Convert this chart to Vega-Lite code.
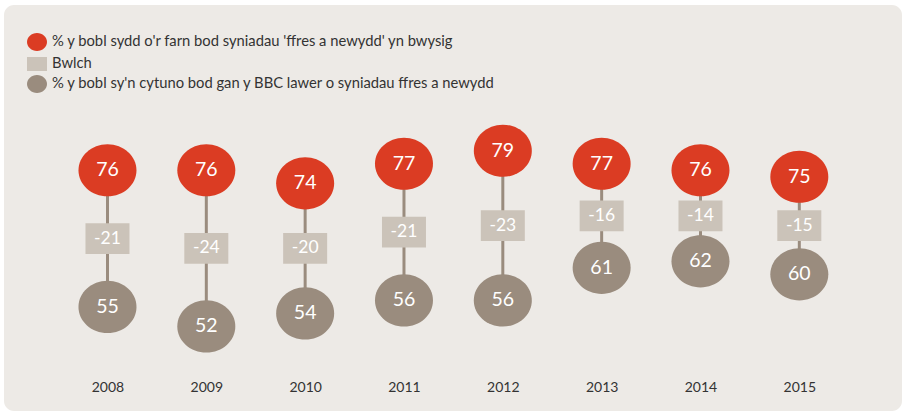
{
  "$schema": "https://vega.github.io/schema/vega-lite/v6.json",
  "width": 898,
  "height": 406,
  "autosize": {"type": "none"},
  "padding": {"left": 4, "top": 5, "right": 1, "bottom": 0},
  "background": "#ffffff",
  "config": {
    "view": {"fill": "#edeae6", "stroke": null, "cornerRadius": 10},
    "font": "Lato"
  },
  "data": {
    "values": [
      {"year": 2008, "top": 76, "bottom": 55, "gap": "-21"},
      {"year": 2009, "top": 76, "bottom": 52, "gap": "-24"},
      {"year": 2010, "top": 74, "bottom": 54, "gap": "-20"},
      {"year": 2011, "top": 77, "bottom": 56, "gap": "-21"},
      {"year": 2012, "top": 79, "bottom": 56, "gap": "-23"},
      {"year": 2013, "top": 77, "bottom": 61, "gap": "-16"},
      {"year": 2014, "top": 76, "bottom": 62, "gap": "-14"},
      {"year": 2015, "top": 75, "bottom": 60, "gap": "-15"}
    ]
  },
  "encoding": {
    "x": {
      "field": "year",
      "type": "quantitative",
      "scale": {"domain": [2006.953, 2016.039], "nice": false, "zero": false},
      "axis": {
        "orient": "bottom",
        "title": null,
        "values": [2008, 2009, 2010, 2011, 2012, 2013, 2014, 2015],
        "format": "d",
        "domain": false,
        "ticks": false,
        "tickSize": 0,
        "grid": false,
        "labelPadding": 0,
        "offset": -24,
        "labelBaseline": "middle",
        "labelAlign": "center",
        "labelAngle": 0,
        "labelFlush": false,
        "labelOverlap": false,
        "labelFontSize": 14,
        "labelColor": "#333333",
        "labelFont": "Lato"
      }
    }
  },
  "layer": [
    {
      "mark": {"type": "rule", "color": "#9a8c7e", "strokeWidth": 3},
      "encoding": {
        "y": {"field": "top", "type": "quantitative", "scale": {"domain": [39, 101.4], "nice": false, "zero": false}, "axis": null},
        "y2": {"field": "bottom"}
      }
    },
    {
      "transform": [{"fold": ["top", "bottom"], "as": ["series", "value"]}],
      "layer": [
        {
          "mark": {"type": "point", "filled": true, "opacity": 1, "strokeWidth": 0, "size": 1936},
          "encoding": {
            "y": {"aggregate": "mean", "field": "value", "type": "quantitative", "axis": null},
            "detail": {"field": "gap", "type": "nominal"},
            "color": {
              "datum": "Bwlch",
              "type": "nominal",
              "scale": {
                "domain": ["% y bobl sydd o'r farn bod syniadau 'ffres a newydd' yn bwysig", "Bwlch", "% y bobl sy'n cytuno bod gan y BBC lawer o syniadau ffres a newydd"],
                "range": ["#db3c23", "#cbc3b9", "#9a8c7e"]
              },
              "legend": {
                "orient": "none", "legendX": 23, "legendY": 27, "title": null, "padding": 0,
                "symbolSize": 400, "symbolStrokeWidth": 0, "symbolOpacity": 1,
                "labelFontSize": 14.75, "labelColor": "#333333", "labelFont": "Lato",
                "labelOffset": 5, "rowPadding": 3, "labelLimit": 700
              }
            },
            "shape": {
              "datum": "Bwlch",
              "type": "nominal",
              "scale": {
                "domain": ["% y bobl sydd o'r farn bod syniadau 'ffres a newydd' yn bwysig", "Bwlch", "% y bobl sy'n cytuno bod gan y BBC lawer o syniadau ffres a newydd"],
                "range": [
                  "M1,0C1,0.497,0.552,0.9,0,0.9C-0.552,0.9,-1,0.497,-1,0C-1,-0.497,-0.552,-0.9,0,-0.9C0.552,-0.9,1,-0.497,1,0Z",
                  "M-1,-0.7H1V0.7H-1Z",
                  "M1,0C1,0.497,0.552,0.9,0,0.9C-0.552,0.9,-1,0.497,-1,0C-1,-0.497,-0.552,-0.9,0,-0.9C0.552,-0.9,1,-0.497,1,0Z"
                ]
              },
              "legend": {
                "orient": "none", "legendX": 23, "legendY": 27, "title": null, "padding": 0,
                "symbolSize": 400, "symbolStrokeWidth": 0, "symbolOpacity": 1,
                "labelFontSize": 14.75, "labelColor": "#333333", "labelFont": "Lato",
                "labelOffset": 5, "rowPadding": 3, "labelLimit": 700
              }
            }
          }
        },
        {
          "mark": {"type": "text", "color": "#ffffff", "fontSize": 17.5, "baseline": "middle", "align": "center"},
          "encoding": {
            "y": {"aggregate": "mean", "field": "value", "type": "quantitative", "axis": null},
            "text": {"field": "gap", "type": "nominal"}
          }
        }
      ]
    },
    {
      "mark": {"type": "point", "filled": true, "opacity": 1, "strokeWidth": 0, "size": 3364},
      "encoding": {
        "y": {"field": "bottom", "type": "quantitative", "axis": null},
        "color": {"datum": "% y bobl sy'n cytuno bod gan y BBC lawer o syniadau ffres a newydd", "type": "nominal"},
        "shape": {"datum": "% y bobl sy'n cytuno bod gan y BBC lawer o syniadau ffres a newydd", "type": "nominal"}
      }
    },
    {
      "mark": {"type": "point", "filled": true, "opacity": 1, "strokeWidth": 0, "size": 3364},
      "encoding": {
        "y": {"field": "top", "type": "quantitative", "axis": null},
        "color": {"datum": "% y bobl sydd o'r farn bod syniadau 'ffres a newydd' yn bwysig", "type": "nominal"},
        "shape": {"datum": "% y bobl sydd o'r farn bod syniadau 'ffres a newydd' yn bwysig", "type": "nominal"}
      }
    },
    {
      "mark": {"type": "text", "color": "#ffffff", "fontSize": 19.5, "baseline": "middle", "align": "center"},
      "encoding": {
        "y": {"field": "bottom", "type": "quantitative", "axis": null},
        "text": {"field": "bottom", "type": "quantitative"}
      }
    },
    {
      "mark": {"type": "text", "color": "#ffffff", "fontSize": 19.5, "baseline": "middle", "align": "center"},
      "encoding": {
        "y": {"field": "top", "type": "quantitative", "axis": null},
        "text": {"field": "top", "type": "quantitative"}
      }
    }
  ]
}
